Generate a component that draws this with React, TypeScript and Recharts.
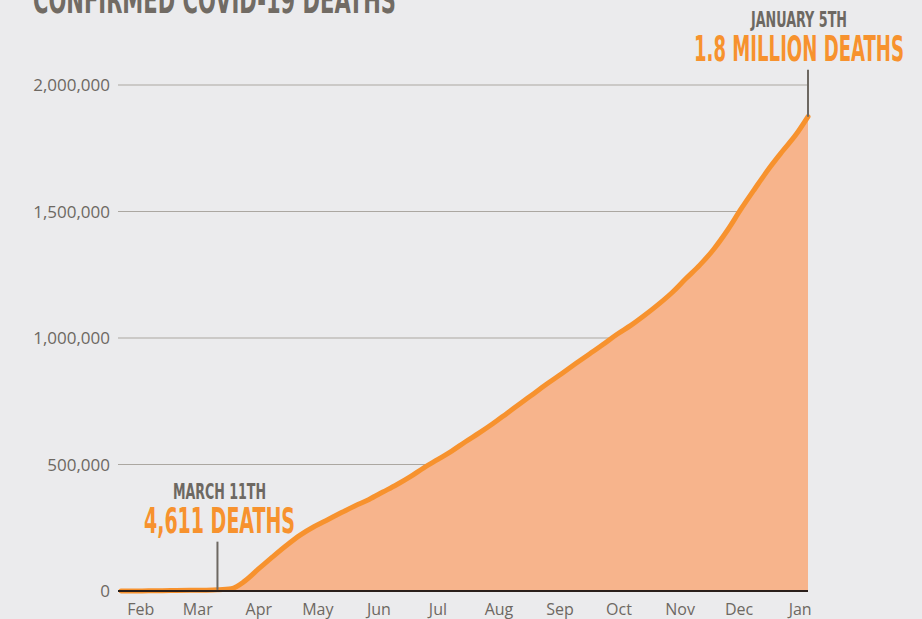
import { AreaChart, Area, XAxis, YAxis, CartesianGrid, ReferenceLine } from 'recharts'

// day 0 = Jan 22, 2020; weekly readings of cumulative deaths
const days = [
  0, 7, 14, 21, 28, 35, 42, 49, 56, 63, 70, 77, 84, 91, 98, 105, 112, 119, 126, 133,
  140, 147, 154, 161, 168, 175, 182, 189, 196, 203, 210, 217, 224, 231, 238, 245, 252,
  259, 266, 273, 280, 287, 294, 301, 308, 315, 322, 329, 336, 343, 349,
]
const deaths = [
  20, 170, 560, 1120, 2000, 2800, 3300, 4611, 9000, 40000, 88000, 135000, 180000,
  221000, 254000, 282000, 310000, 337000, 362000, 391000, 420000, 452000, 488000,
  520000, 553000, 590000, 625000, 662000, 702000, 742000, 782000, 822000, 860000,
  899000, 937000, 975000, 1015000, 1050000, 1090000, 1133000, 1180000, 1235000,
  1288000, 1350000, 1425000, 1510000, 1590000, 1668000, 1738000, 1805000, 1875000,
]

const monthTicks = [10, 39, 70, 100, 131, 161, 192, 223, 253, 284, 314, 345]
const monthLabels = ['Feb', 'Mar', 'Apr', 'May', 'Jun', 'Jul', 'Aug', 'Sep', 'Oct', 'Nov', 'Dec', 'Jan']
const yTicks = [0, 500000, 1000000, 1500000, 2000000]

const marchDay = 49
const marchDeaths = 4611
const lastDay = 349
const lastDeaths = 1875000

const data = days.map((day, i) => ({ day, deaths: deaths[i] }))

const HEAD_FONT = "'Liberation Sans Narrow', 'DejaVu Sans Condensed', 'Roboto', sans-serif"
const TICK_FONT = "'Open Sans', 'Noto Sans', sans-serif"
const GRAY = '#6d6862'
const ORANGE = '#F7922E'

const Callout = ({ viewBox, date, total, dx, dateWidth, totalWidth }: any) => {
  if (!viewBox) return null
  const cx = viewBox.x + dx
  const top = viewBox.y
  return (
    <g>
      <text x={cx} y={top - 43} textAnchor="middle" fontFamily={HEAD_FONT} fontWeight={700}
        fontSize={22} fill={GRAY} textLength={dateWidth} lengthAdjust="spacingAndGlyphs">
        {date}
      </text>
      <text x={cx} y={top - 9} textAnchor="middle" fontFamily={HEAD_FONT} fontWeight={700}
        fontSize={35} fill={ORANGE} textLength={totalWidth} lengthAdjust="spacingAndGlyphs">
        {total}
      </text>
    </g>
  )
}

export default function App() {
  return (
    <div style={{ position: 'absolute', left: 0, top: 0, width: 922, height: 619, background: '#EBEBED', overflow: 'hidden' }}>
      <svg width={922} height={40} style={{ position: 'absolute', left: 0, top: 0 }}>
        <text x={33} y={13} fontFamily={HEAD_FONT} fontWeight={700} fontSize={38} fill="#716b64"
          textLength={363} lengthAdjust="spacingAndGlyphs">
          CONFIRMED COVID-19 DEATHS
        </text>
      </svg>
      <AreaChart width={922} height={619} data={data} margin={{ top: 85, right: 114, bottom: 0, left: 0 }}>
        <CartesianGrid horizontal vertical={false} stroke="#aba7a1" strokeWidth={1} />
        <XAxis
          dataKey="day"
          type="number"
          domain={[0, lastDay]}
          padding={{ left: 3, right: 0 }}
          ticks={monthTicks}
          tickFormatter={(v) => monthLabels[monthTicks.indexOf(v)]}
          tick={{ fontSize: 16, fill: GRAY, fontFamily: TICK_FONT }}
          tickLine={false}
          tickMargin={7}
          height={28}
          axisLine={{ stroke: '#2a1f1b', strokeWidth: 2 }}
        />
        <YAxis
          domain={[0, 2000000]}
          ticks={yTicks}
          tickFormatter={(v) => v.toLocaleString('en-US')}
          tick={{ fontSize: 17, fill: GRAY, fontFamily: TICK_FONT }}
          axisLine={false}
          tickLine={false}
          width={118}
        />
        <Area
          type="monotone"
          dataKey="deaths"
          stroke={ORANGE}
          strokeWidth={5}
          strokeLinecap="round"
          fill="#F7B48C"
          fillOpacity={1}
          dot={false}
          activeDot={false}
          isAnimationActive={false}
        />
        <ReferenceLine
          segment={[{ x: marchDay, y: marchDeaths }, { x: marchDay, y: 195000 }]}
          stroke={GRAY}
          strokeWidth={2}
          ifOverflow="visible"
          label={(p: any) => (
            <Callout viewBox={p.viewBox} date="MARCH 11TH" total="4,611 DEATHS" dx={2} dateWidth={93} totalWidth={151} />
          )}
        />
        <ReferenceLine
          segment={[{ x: lastDay, y: lastDeaths }, { x: lastDay, y: 2060000 }]}
          stroke={GRAY}
          strokeWidth={2}
          ifOverflow="visible"
          label={(p: any) => (
            <Callout viewBox={p.viewBox} date="JANUARY 5TH" total="1.8 MILLION DEATHS" dx={-9} dateWidth={96} totalWidth={210} />
          )}
        />
      </AreaChart>
    </div>
  )
}
